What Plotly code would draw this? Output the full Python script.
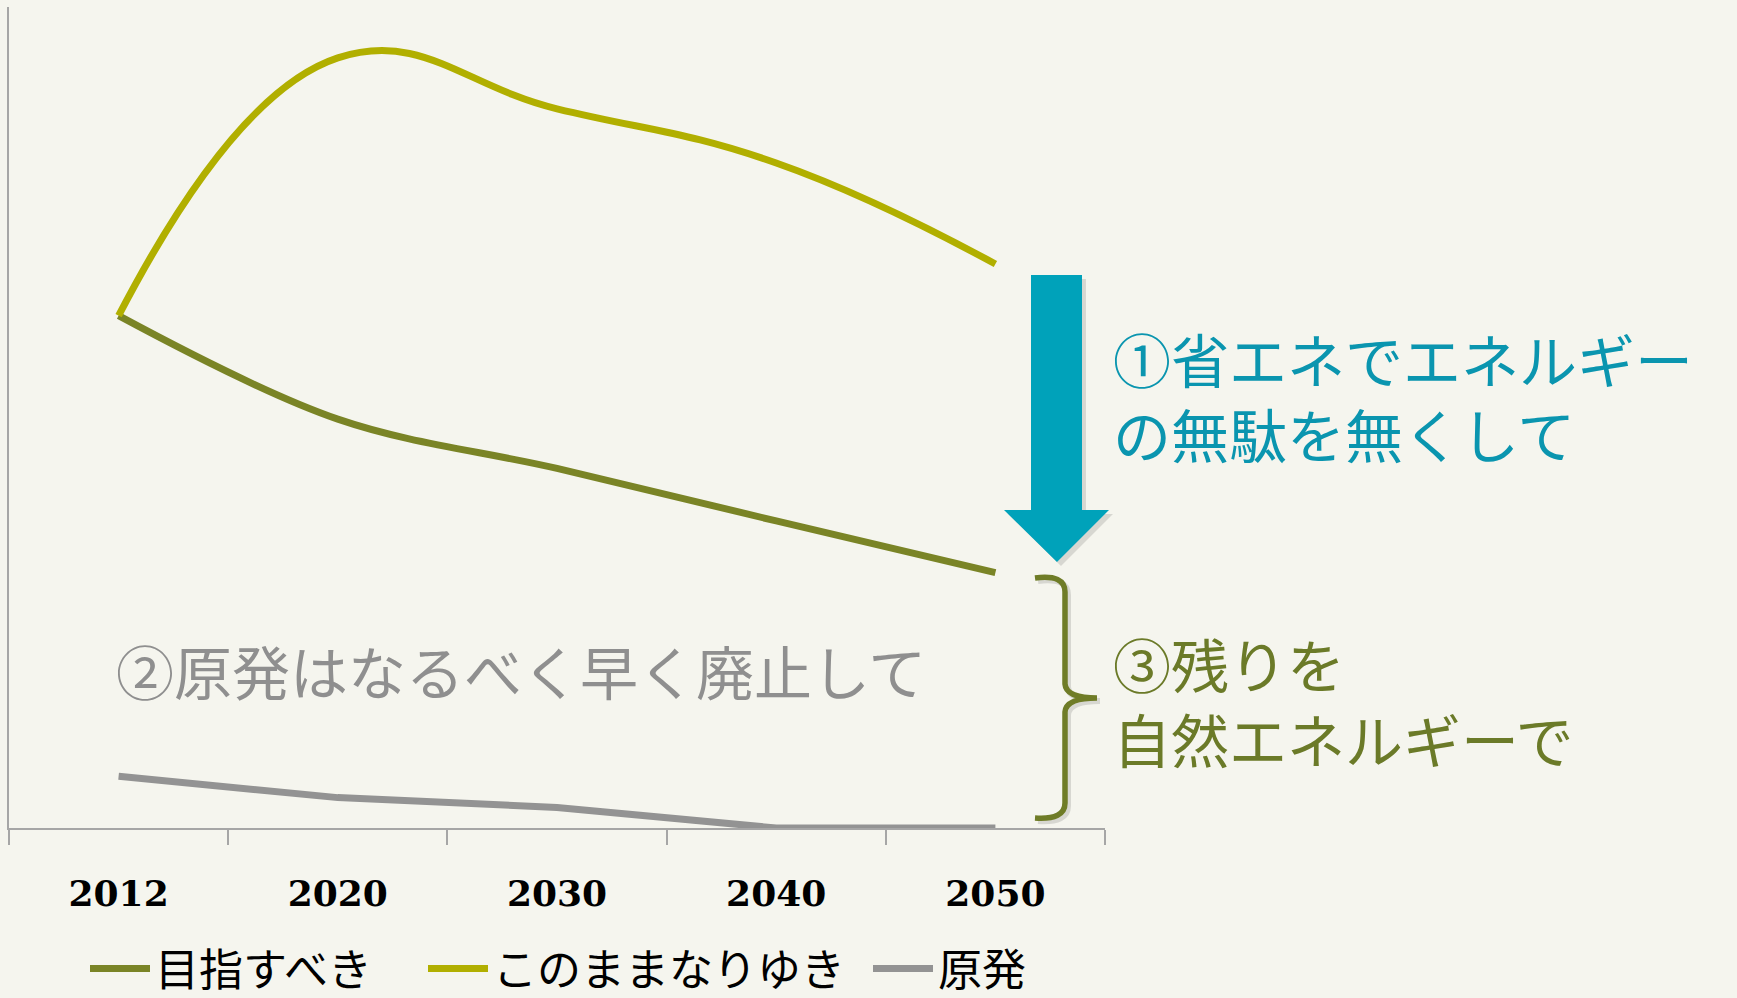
import plotly.graph_objects as go

# ---- data ----
years = ["2012", "2020", "2030", "2040", "2050"]
target = [62.4, 49.8, 43.8, 37.4, 31.1]     # 目指すべき
bau = [62.4, 93.8, 87.6, 81.0, 68.7]        # このままなりゆき
nuclear = [6.3, 3.7, 2.5, 0.0, 0.0]         # 原発
series_names = ["目指すべき", "このままなりゆき", "原発"]

note1 = ["①省エネでエネルギー", "の無駄を無くして"]
note2 = "②原発はなるべく早く廃止して"
note3 = ["③残りを", "自然エネルギーで"]

# ---- layout geometry (pixels) ----
W, H = 1737, 998
L, R, T, B = 9, 1105, 7, 828

def px(x):
    return (x - L) / (R - L)

def py(y):
    return (B - y) / (B - T)

def path(cmds):
    out = []
    for c in cmds:
        if isinstance(c, str):
            out.append(c)
        else:
            out.append(f"{px(c[0]):.5f},{py(c[1]):.5f}")
    return " ".join(out)

BG = "#F5F5EE"
C_TARGET = "#7A8426"
C_BAU = "#B1AF00"
C_NUC = "#939393"
C_TEAL = "#00A2BA"
C_TEAL_TXT = "#0A95AF"
C_OLIVE_TXT = "#6B7A28"
C_GRAY_TXT = "#8F8F8F"
JP = "Noto Sans CJK JP"

fig = go.Figure()
fig.add_trace(go.Scatter(x=years, y=target, name=series_names[0], mode="lines",
                         legend="legend",
                         line=dict(color=C_TARGET, width=7, shape="spline", smoothing=1.0)))
fig.add_trace(go.Scatter(x=years, y=bau, name=series_names[1], mode="lines",
                         legend="legend2",
                         line=dict(color=C_BAU, width=7, shape="spline", smoothing=1.25)))
fig.add_trace(go.Scatter(x=years, y=nuclear, name=series_names[2], mode="lines",
                         legend="legend3",
                         line=dict(color=C_NUC, width=7, shape="linear")))

arrow_pts = [(1031, 275), (1082, 275), (1082, 510), (1109, 510), (1057, 562),
             (1004, 510), (1031, 510)]

def arrow_path(dx=0, dy=0):
    cmds = []
    for i, (x, y) in enumerate(arrow_pts):
        cmds.append("M" if i == 0 else "L")
        cmds.append((x + dx, y + dy))
    cmds.append("Z")
    return path(cmds)

def brace_path(dx=0, dy=0):
    p = lambda x, y: (x + dx, y + dy)
    return path(["M", p(1035, 578), "Q", p(1065, 574), p(1065, 592),
                 "L", p(1065, 684), "Q", p(1066, 698), p(1097, 698),
                 "Q", p(1066, 698), p(1065, 712),
                 "L", p(1065, 803), "Q", p(1065, 820), p(1035, 818)])

shapes = [
    dict(type="path", xref="paper", yref="paper", path=arrow_path(4, 4),
         fillcolor="rgba(0,0,0,0.12)", line=dict(width=0)),
    dict(type="path", xref="paper", yref="paper", path=arrow_path(),
         fillcolor=C_TEAL, line=dict(width=0)),
    dict(type="path", xref="paper", yref="paper", path=brace_path(3, 3),
         line=dict(color="rgba(0,0,0,0.12)", width=6)),
    dict(type="path", xref="paper", yref="paper", path=brace_path(),
         line=dict(color="#6F7C27", width=5.5)),
]

annotations = [
    dict(text="<br>".join(note1), x=px(1111), y=py(395), align="left",
         font=dict(family=JP, size=58, color=C_TEAL_TXT)),
    dict(text="<br>".join(note3), x=px(1111), y=py(700), align="left",
         font=dict(family=JP, size=58, color=C_OLIVE_TXT)),
    dict(text=note2, x=px(114), y=py(670), font=dict(family=JP, size=58, color=C_GRAY_TXT)),
]
for a in annotations:
    a.update(xref="paper", yref="paper", xanchor="left", yanchor="middle",
             showarrow=False)

legend_common = dict(orientation="h", y=py(969), xanchor="left", yanchor="middle",
                     font=dict(family=JP, size=44, color="#000000"),
                     bgcolor="rgba(0,0,0,0)", itemwidth=60)

fig.update_layout(
    width=W, height=H,
    margin=dict(l=L, r=W - R, t=T, b=H - B, autoexpand=False),
    paper_bgcolor=BG, plot_bgcolor=BG,
    shapes=shapes, annotations=annotations,
    showlegend=True,
    legend=dict(x=px(85), **legend_common),
    legend2=dict(x=px(423), **legend_common),
    legend3=dict(x=px(868), **legend_common),
    xaxis=dict(type="category", range=[-0.5, 4.5], tickson="boundaries",
               ticks="outside", ticklen=15, tickwidth=2, tickcolor="#A6A6A6",
               showline=True, linecolor="#A6A6A6", linewidth=2,
               showgrid=False, zeroline=False, ticklabelstandoff=33,
               tickfont=dict(family="DejaVu Serif", size=36, color="#000000", weight="bold")),
    yaxis=dict(range=[0, 100], showline=True, linecolor="#A6A6A6", linewidth=2,
               showticklabels=False, ticks="", showgrid=False, zeroline=False),
)

fig.write_html("out.html")
